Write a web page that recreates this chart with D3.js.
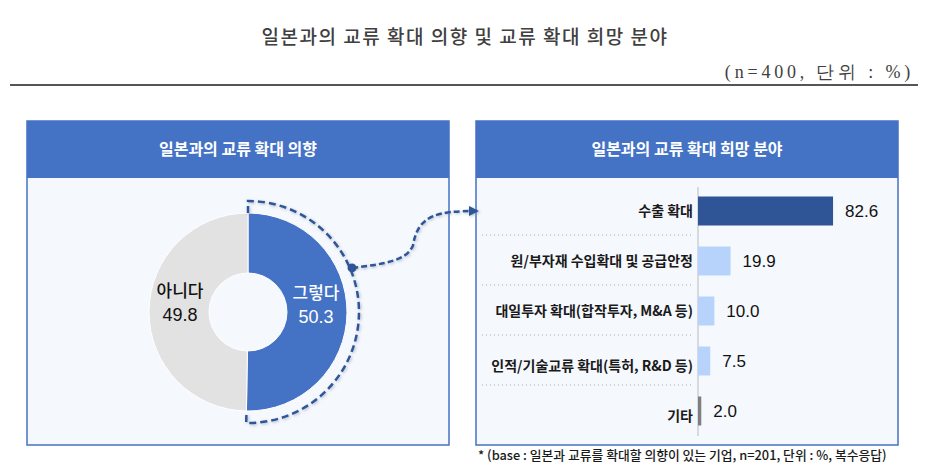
<!DOCTYPE html>
<html>
<head>
<meta charset="utf-8">
<script src="https://cdn.jsdelivr.net/npm/d3@7"></script>
<style>
  body { margin: 0; background: #fff; }
  text { font-family: "Noto Sans CJK KR", "Noto Sans", sans-serif; }
</style>
</head>
<body>
<div id="chart"></div>
<script>
// data
const mainTitle = '일본과의 교류 확대 의향 및 교류 확대 희망 분야';
const unitNote = '(n=400, 단위 : %)';
const pieTitle = '일본과의 교류 확대 의향';
const barTitle = '일본과의 교류 확대 희망 분야';
const pieLabels = ['그렇다', '아니다'];
const pieValues = [50.3, 49.8];
const barLabels = ['수출 확대', '원/부자재 수입확대 및 공급안정', '대일투자 확대(합작투자, M&A 등)', '인적/기술교류 확대(특허, R&D 등)', '기타'];
const barValues = [82.6, 19.9, 10.0, 7.5, 2.0];
const footNote = '* (base : 일본과 교류를 확대할 의향이 있는 기업, n=201, 단위 : %, 복수응답)';

const width = 930, height = 475;
const blue = '#4472C4', dashBlue = '#2F5597';

const svg = d3.select('#chart').append('svg')
  .attr('width', width).attr('height', height);

const defs = svg.append('defs');
defs.append('filter').attr('id', 'glow')
  .attr('x', '-20%').attr('y', '-20%').attr('width', '140%').attr('height', '140%')
  .append('feDropShadow')
  .attr('dx', 1).attr('dy', 1).attr('stdDeviation', 1.5)
  .attr('flood-color', '#7f8fa8').attr('flood-opacity', 0.6);
defs.append('marker').attr('id', 'arrow')
  .attr('viewBox', '0 0 10 10').attr('refX', 8).attr('refY', 5)
  .attr('markerWidth', 4).attr('markerHeight', 4).attr('orient', 'auto')
  .append('path').attr('d', 'M0,0 L10,5 L0,10 z').attr('fill', dashBlue);

// title block
svg.append('text')
  .attr('x', 465).attr('y', 44)
  .attr('text-anchor', 'middle')
  .style('font-size', '19px').style('letter-spacing', '1.5px')
  .style('font-weight', 500)
  .attr('fill', '#404040')
  .text(mainTitle);

svg.append('text')
  .attr('x', 914).attr('y', 78)
  .attr('text-anchor', 'end')
  .style('font-family', '"Liberation Serif", "DejaVu Serif", serif')
  .style('font-size', '18px').style('letter-spacing', '3.8px')
  .attr('fill', '#404040')
  .text(unitNote);

svg.append('line')
  .attr('x1', 10).attr('x2', 918).attr('y1', 85).attr('y2', 85)
  .attr('stroke', '#555').attr('stroke-width', 2);

// panels
function panel(x, w, title) {
  const g = svg.append('g');
  g.append('rect')
    .attr('x', x).attr('y', 121).attr('width', w).attr('height', 324)
    .attr('fill', '#f5f8fd').attr('stroke', blue).attr('stroke-width', 1.5);
  g.append('rect')
    .attr('x', x).attr('y', 121).attr('width', w).attr('height', 57)
    .attr('fill', blue);
  g.append('text')
    .attr('x', x + w / 2).attr('y', 155)
    .attr('text-anchor', 'middle')
    .attr('fill', '#fff')
    .style('font-size', '16px').style('font-weight', 700)
    .text(title);
}
panel(27, 422, pieTitle);
panel(476, 422, barTitle);

// donut
const cx = 248, cy = 312;
const pie = d3.pie().sort(null).value((d) => d);
const arcs = pie(pieValues);
const arc = d3.arc().innerRadius(39).outerRadius(99);
const gPie = svg.append('g').attr('transform', `translate(${cx},${cy})`);

gPie.selectAll('path.slice')
  .data(arcs)
  .enter()
  .append('path')
  .attr('class', 'slice')
  .attr('d', arc)
  .attr('fill', (d, i) => (i === 0 ? blue : '#e2e2e2'))
  .attr('stroke', '#fff').attr('stroke-width', 1);

const labelArc = d3.arc().innerRadius(68).outerRadius(68);
arcs.forEach((d, i) => {
  const [lx, ly] = labelArc.centroid(d);
  const t = gPie.append('text')
    .attr('text-anchor', 'middle')
    .attr('fill', i === 0 ? '#fff' : '#111')
    .style('font-size', '17px').style('font-weight', 500);
  t.append('tspan').attr('x', lx).attr('y', ly - 14).text(pieLabels[i]);
  t.append('tspan').attr('x', lx).attr('y', ly + 10)
    .style('font-family', '"Liberation Sans", Arial, sans-serif')
    .style('font-size', '18px').style('font-weight', 400)
    .text(pieValues[i].toFixed(1));
});

// dashed highlight around "그렇다"
const hl = arcs[0];
const rOut = 111;
const hlPath = d3.path();
const pt = (r, a) => [r * Math.sin(a), -r * Math.cos(a)];
let p = pt(99, hl.startAngle);
hlPath.moveTo(p[0], p[1]);
p = pt(rOut, hl.startAngle);
hlPath.lineTo(p[0], p[1]);
hlPath.arc(0, 0, rOut, hl.startAngle - Math.PI / 2, hl.endAngle - Math.PI / 2);
p = pt(99, hl.endAngle);
hlPath.lineTo(p[0], p[1]);
gPie.append('path')
  .attr('d', hlPath.toString())
  .attr('fill', 'none')
  .attr('stroke', dashBlue).attr('stroke-width', 2.5)
  .attr('stroke-dasharray', '7,4')
  .attr('filter', 'url(#glow)');

// bars
const x = d3.scaleLinear().domain([0, 100]).range([698, 861.5]);
const y = d3.scaleBand().domain(barLabels).range([186, 436])
  .paddingInner(0.42).paddingOuter(0.21);
const barColor = (d, i) => (i === 0 ? '#2F5597' : i === barLabels.length - 1 ? '#7f7f7f' : '#b7d3fb');

// dotted separators
svg.selectAll('line.sep')
  .data(barLabels.slice(1))
  .enter()
  .append('line')
  .attr('class', 'sep')
  .attr('x1', 482).attr('x2', 692)
  .attr('y1', (d) => y(d) - y.step() * y.paddingInner() / 2 - 1)
  .attr('y2', (d) => y(d) - y.step() * y.paddingInner() / 2 - 1)
  .attr('stroke', '#aaa').attr('stroke-width', 1)
  .attr('stroke-dasharray', '1,3');

svg.append('line')
  .attr('x1', x(0)).attr('x2', x(0))
  .attr('y1', 187).attr('y2', 436)
  .attr('stroke', '#d6d9de').attr('stroke-width', 2);

svg.selectAll('rect.bar')
  .data(barValues)
  .enter()
  .append('rect')
  .attr('class', 'bar')
  .attr('x', x(0))
  .attr('y', (d, i) => y(barLabels[i]))
  .attr('width', (d) => x(d) - x(0))
  .attr('height', y.bandwidth())
  .attr('fill', barColor);

svg.selectAll('text.val')
  .data(barValues)
  .enter()
  .append('text')
  .attr('class', 'val')
  .attr('x', (d) => x(d) + 12)
  .attr('y', (d, i) => y(barLabels[i]) + y.bandwidth() / 2 + 6)
  .style('font-family', '"Liberation Sans", Arial, sans-serif')
  .style('font-size', '17px')
  .attr('fill', '#111')
  .text((d) => d.toFixed(1));

svg.selectAll('text.cat')
  .data(barLabels)
  .enter()
  .append('text')
  .attr('class', 'cat')
  .attr('x', 693)
  .attr('y', (d, i) => y(d) + y.bandwidth() / 2 + 5 + (i >= 3 ? 5 : 0))
  .attr('text-anchor', 'end')
  .style('font-size', '14px').style('font-weight', 700)
  .attr('fill', '#1a1a1a')
  .text((d) => d);

// connector from donut to bar panel
const start = pt(113, 1.17);
const sx = cx + start[0], sy = cy + start[1];
const ex = 477, ey = y(barLabels[0]) + y.bandwidth() / 2;
const mx = 415;
const conn = d3.path();
conn.moveTo(sx, sy);
conn.bezierCurveTo(sx + 35, sy - 4, mx - 8, sy - 8, mx - 2, (sy + ey) / 2 + 6);
conn.bezierCurveTo(mx + 3, ey + 4, ex - 40, ey, ex, ey);
svg.append('path')
  .attr('d', conn.toString())
  .attr('fill', 'none')
  .attr('stroke', dashBlue).attr('stroke-width', 2.5)
  .attr('stroke-dasharray', '6,3')
  .attr('marker-end', 'url(#arrow)')
  .attr('filter', 'url(#glow)');
svg.append('circle')
  .attr('cx', sx).attr('cy', sy).attr('r', 4.5)
  .attr('fill', dashBlue);

// footnote
svg.append('text')
  .attr('x', 478).attr('y', 460)
  .style('font-size', '12.8px').style('font-weight', 500)
  .attr('fill', '#1a1a1a')
  .text(footNote);
</script>
</body>
</html>
